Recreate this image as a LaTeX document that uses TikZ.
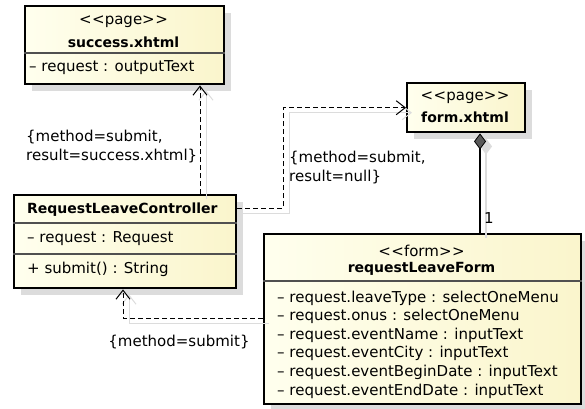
\documentclass[tikz,border=0pt]{standalone}
\usepackage{fontspec}
\setmainfont{DejaVu Sans}[Ligatures=TeXOff]
\usetikzlibrary{arrows.meta,shadows}

\definecolor{boxleft}{RGB}{255,255,238}
\definecolor{boxright}{RGB}{250,245,204}
\definecolor{divider}{RGB}{80,80,80}
\definecolor{shade}{RGB}{220,220,220}

\newcommand{\stereo}[1]{<\kern0.6pt<#1>\kern0.6pt>}
\newcommand{\clsname}[1]{{\fontsize{14}{18.6}\selectfont\bfseries #1}}

\tikzset{
  umlbox/.style={draw, line width=2.4pt, anchor=north west, inner sep=0pt,
    left color=boxleft, right color=boxright,
    drop shadow={shadow xshift=7pt, shadow yshift=-7pt, fill=shade, opacity=1}},
  divline/.style={draw=divider, line width=1.1pt},
  txt/.style={inner sep=0pt, font=\fontsize{15}{18.6}\selectfont},
  deptip/.style={-{Straight Barb[length=9pt,width=14pt]}},
  dep/.style={deptip, dash pattern=on 5pt off 3pt, line width=1pt},
  connshade/.style={draw=shade, line width=1pt, transform canvas={shift={(6pt,-5pt)}}},
  comp/.style={line width=1.1pt, {Diamond[length=16pt,width=12pt,fill=#1,line width=0.8pt]}-},
}

\begin{document}
\begin{tikzpicture}[x=1pt,y=-1pt]
\useasboundingbox (0,0) rectangle (585,408);

% classes
\node[umlbox, minimum width=199pt, minimum height=78pt] (succ) at (24,5) {};
\node[umlbox, minimum width=118pt, minimum height=49pt] (form) at (406,82) {};
\node[umlbox, minimum width=222pt, minimum height=93pt] (ctrl) at (13,194) {};
\node[umlbox, minimum width=317pt, minimum height=170pt] (rlf) at (263,233) {};

% compartments
\draw[divline] ([yshift=-48pt]succ.north west) -- ([yshift=-48pt]succ.north east);
\draw[divline] ([yshift=-29pt]ctrl.north west) -- ([yshift=-29pt]ctrl.north east);
\draw[divline] ([yshift=-60pt]ctrl.north west) -- ([yshift=-60pt]ctrl.north east);
\draw[divline] ([yshift=-48pt]rlf.north west) -- ([yshift=-48pt]rlf.north east);

\node[txt] (succst) at (123.5,22) {\stereo{page}};
\node[txt] (succname) at (123.5,42) {\clsname{success.xhtml}};
\node[txt, anchor=west] (succa1) at (29,68) {– request : outputText};

\node[txt] (formst) at (465,98) {\stereo{page}};
\node[txt] (formname) at (465,117) {\clsname{form.xhtml}};

\node[txt, anchor=west] (ctrlname) at (27,210) {\clsname{RequestLeaveController}};
\node[txt, anchor=west] (ctrla1) at (27,239) {– request : Request};
\node[txt, anchor=west] (ctrlo1) at (27,269) {+ submit() : String};

\node[txt] (rlfst) at (421.5,251) {\stereo{form}};
\node[txt] (rlfname) at (421.5,269) {\clsname{requestLeaveForm}};
\foreach \attr [count=\i] in {request.leaveType : selectOneMenu, request.onus : selectOneMenu,
    request.eventName : inputText, request.eventCity : inputText,
    request.eventBeginDate : inputText, request.eventEndDate : inputText}
  \node[txt, anchor=west] (rlfa\i) at (277,279.4+18.6*\i) {– \attr};

% connectors
\coordinate (ctrltop) at ([xshift=187pt]ctrl.north west);
\coordinate (ctrlbot) at ([xshift=110pt]ctrl.south west);
\coordinate (comptop) at ([xshift=74pt]form.south west);

\draw[connshade, deptip] (ctrltop) -- (ctrltop |- succ.south);
\draw[connshade, deptip] ([yshift=-14pt]ctrl.north east) -- ++(46,0) |- (form.west);
\draw[connshade, deptip] ([yshift=-85pt]rlf.north west) -| (ctrlbot);
\draw[connshade, comp=shade] (comptop) -- (comptop |- rlf.north);

\draw[dep] (ctrltop) -- (ctrltop |- succ.south);
\draw[dep] ([yshift=-14pt]ctrl.north east) -- ++(46,0) |- (form.west);
\draw[dep] ([yshift=-85pt]rlf.north west) -| (ctrlbot);
\draw[comp=black!65] (comptop) -- (comptop |- rlf.north);

\node[txt, anchor=west, align=left] (lblsucc) at (26,146.5) {\{method=submit,\\result=success.xhtml\}};
\node[txt, anchor=west, align=left] (lblform) at (289,167.5) {\{method=submit,\\result=null\}};
\node[txt] (lblrlf) at (179,342) {\{method=submit\}};
\node[txt] (mult) at (489,218) {1};
\end{tikzpicture}
\end{document}
